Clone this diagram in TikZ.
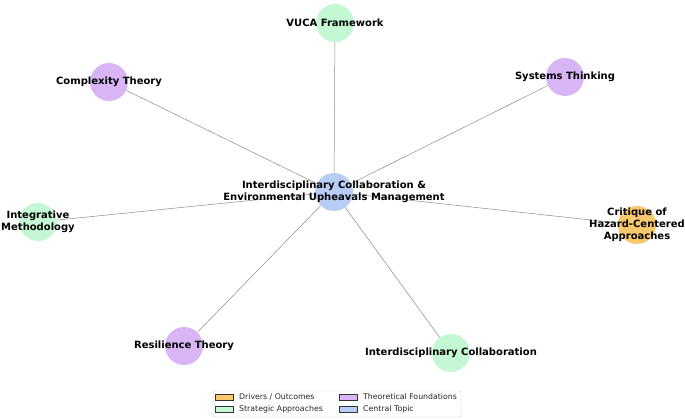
\documentclass[tikz,border=0pt]{standalone}
\usepackage{fontspec}
\setmainfont{DejaVu Sans}
\definecolor{cgreen}{HTML}{C4F7D3}
\definecolor{cpurple}{HTML}{D8B6F6}
\definecolor{cblue}{HTML}{B8CDF6}
\definecolor{corange}{HTML}{F8C86E}
\definecolor{cedge}{HTML}{8A8A8A}
\begin{document}
\begin{tikzpicture}[x=1pt,y=-1pt,
  dot/.style={circle,minimum size=38pt,inner sep=0pt,draw=none},
  lbl/.style={font=\bfseries\fontsize{10}{11.8}\selectfont,align=center,inner sep=0pt},
  edge/.style={draw=cedge,line width=0.5pt},
  patch/.style={draw=black!80,line width=0.4pt,minimum width=18pt,minimum height=6pt,inner sep=0pt},
  legtxt/.style={font=\fontsize{7.8}{9}\selectfont,anchor=west,inner sep=0pt,text=black!85}]
\useasboundingbox (0,0) rectangle (685,419);
% nodes
\node[dot,fill=cblue] (c) at (334,192) {};
\node[dot,fill=cgreen] (vuca) at (335,23) {};
\node[dot,fill=cpurple] (cx) at (109,82) {};
\node[dot,fill=cpurple] (st) at (565,77) {};
\node[dot,fill=cgreen] (im) at (38,222) {};
\node[dot,fill=corange] (cr) at (637,225) {};
\node[dot,fill=cpurple] (rt) at (184,346) {};
\node[dot,fill=cgreen] (ic) at (451,353) {};
% edges
\foreach \n in {vuca,cx,st,im,cr,rt,ic} {\draw[edge] (c) -- (\n);}
% labels
\node[lbl] (cL) at (c) {Interdisciplinary Collaboration \&\\Environmental Upheavals Management};
\node[lbl] (vucaL) at (vuca) {VUCA Framework};
\node[lbl] (cxL) at (cx) {Complexity Theory};
\node[lbl] (stL) at (st) {Systems Thinking};
\node[lbl] (imL) at (im) {Integrative\\Methodology};
\node[lbl] (crL) at (cr) {Critique of\\Hazard-Centered\\Approaches};
\node[lbl] (rtL) at (rt) {Resilience Theory};
\node[lbl] (icL) at (ic) {Interdisciplinary Collaboration};
% legend
\node[draw=black!20,rounded corners=2pt,minimum width=248pt,minimum height=26pt,inner sep=0pt,fill=white] (leg) at (337,404) {};
\node[patch,fill=corange] (p1) at (224,397) {};
\node[legtxt] (t1) at (239,397) {Drivers / Outcomes};
\node[patch,fill=cgreen] (p2) at (224,409) {};
\node[legtxt] (t2) at (239,409) {Strategic Approaches};
\node[patch,fill=cpurple] (p3) at (348,397) {};
\node[legtxt] (t3) at (363,397) {Theoretical Foundations};
\node[patch,fill=cblue] (p4) at (348,409) {};
\node[legtxt] (t4) at (363,409) {Central Topic};
\end{tikzpicture}
\end{document}
